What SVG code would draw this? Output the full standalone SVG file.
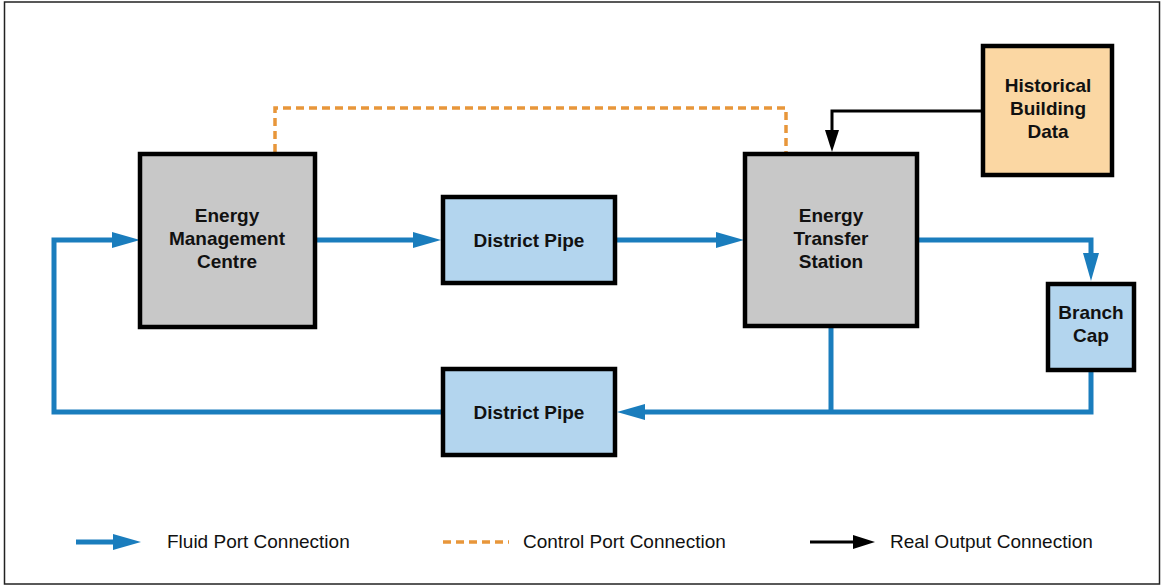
<svg xmlns="http://www.w3.org/2000/svg" width="1163" height="586" viewBox="0 0 1163 586">
  <style>
    .node { stroke: #000; stroke-width: 4.5; }
    .plant { fill: #c8c8c8; }
    .pipe { fill: #b3d5ee; }
    .data { fill: #fbd7a3; }
    .label { font-family: "Liberation Sans", Arial, sans-serif; font-size: 19px; font-weight: bold; fill: #111; text-anchor: middle; }
    .legend { font-family: "Liberation Sans", Arial, sans-serif; font-size: 19px; fill: #111; }
    .fluid { fill: none; stroke: #1a7dbd; stroke-width: 5; }
    .control { fill: none; stroke: #e8963a; stroke-width: 3.5; stroke-dasharray: 8 5; }
    .real { fill: none; stroke: #000; stroke-width: 3; }
  </style>
  <defs>
    <!-- arrowheads start at the path end and extend past it -->
    <marker id="fluidHead" markerUnits="userSpaceOnUse" markerWidth="28" markerHeight="16" refX="0" refY="8" orient="auto" overflow="visible">
      <path d="M0,0 L28,8 L0,16 Z" fill="#1a7dbd"/>
    </marker>
    <marker id="realHead" markerUnits="userSpaceOnUse" markerWidth="22" markerHeight="14" refX="0" refY="7" orient="auto" overflow="visible">
      <path d="M0,0 L22,7 L0,14 Z" fill="#000"/>
    </marker>
  </defs>

  <rect x="4.5" y="2" width="1155" height="582" fill="#fff" stroke="#222" stroke-width="1.5"/>

  <g id="connectors">
    <path class="fluid" d="M441,412 H54 V240 H112" marker-end="url(#fluidHead)"/>
    <path class="fluid" d="M316,240 H413" marker-end="url(#fluidHead)"/>
    <path class="fluid" d="M616,240 H716" marker-end="url(#fluidHead)"/>
    <path class="fluid" d="M918,240 H1091 V253" marker-end="url(#fluidHead)"/>
    <path class="fluid" d="M1091,371 V412 H645" marker-end="url(#fluidHead)"/>
    <path class="fluid" d="M831,327 V412"/>
    <path class="control" d="M275,152 V108 H786 V152"/>
    <path class="real" d="M982,111 H832 V130" marker-end="url(#realHead)"/>
  </g>

  <g id="energy-management-centre">
    <rect class="node plant" x="140" y="154" width="175" height="173"/>
    <text class="label" x="227" y="222">Energy</text>
    <text class="label" x="227" y="245">Management</text>
    <text class="label" x="227" y="268">Centre</text>
  </g>

  <g id="district-pipe-supply">
    <rect class="node pipe" x="443" y="197" width="172" height="86"/>
    <text class="label" x="529" y="247">District Pipe</text>
  </g>

  <g id="energy-transfer-station">
    <rect class="node plant" x="745" y="154" width="172" height="172"/>
    <text class="label" x="831" y="222">Energy</text>
    <text class="label" x="831" y="245">Transfer</text>
    <text class="label" x="831" y="268">Station</text>
  </g>

  <g id="historical-building-data">
    <rect class="node data" x="983" y="46" width="129" height="129"/>
    <text class="label" x="1048" y="92">Historical</text>
    <text class="label" x="1048" y="115">Building</text>
    <text class="label" x="1048" y="138">Data</text>
  </g>

  <g id="branch-cap">
    <rect class="node pipe" x="1048" y="284" width="86" height="86"/>
    <text class="label" x="1091" y="319">Branch</text>
    <text class="label" x="1091" y="342">Cap</text>
  </g>

  <g id="district-pipe-return">
    <rect class="node pipe" x="443" y="369" width="172" height="86"/>
    <text class="label" x="529" y="419">District Pipe</text>
  </g>

  <g id="legend">
    <path class="fluid" d="M76,542 H113" marker-end="url(#fluidHead)"/>
    <text class="legend" x="167" y="548">Fluid Port Connection</text>
    <path class="control" d="M443,542 H509"/>
    <text class="legend" x="523" y="548">Control Port Connection</text>
    <path class="real" d="M810,542 H853" marker-end="url(#realHead)"/>
    <text class="legend" x="890" y="548">Real Output Connection</text>
  </g>
</svg>
